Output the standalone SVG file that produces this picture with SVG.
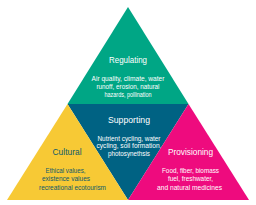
<svg xmlns="http://www.w3.org/2000/svg" width="256" height="205" viewBox="0 0 256 205">
<style>
.t{font-family:"Liberation Sans",Arial,sans-serif;text-anchor:middle}
.h{font-size:9px}
.b{font-size:6.8px}
.w{fill:#ffffff}
.d{fill:#0e5a6c}
</style>
<rect width="256" height="205" fill="#ffffff"/>
<g id="regulating">
<polygon points="128,7 67.5,104 188.5,104" fill="#00a685"/>
<text class="t h w" x="128" y="63" textLength="38" lengthAdjust="spacingAndGlyphs">Regulating</text>
<text class="t b w" x="128" y="80.5" textLength="73" lengthAdjust="spacingAndGlyphs">Air quality, climate, water</text>
<text class="t b w" x="128" y="88.5" textLength="63" lengthAdjust="spacingAndGlyphs">runoff, erosion, natural</text>
<text class="t b w" x="128" y="96.5" textLength="47" lengthAdjust="spacingAndGlyphs">hazards, pollination</text>
</g>
<g id="supporting">
<polygon points="67.5,104 188.5,104 128,200" fill="#006283"/>
<text class="t h w" x="129" y="122.5" textLength="42" lengthAdjust="spacingAndGlyphs">Supporting</text>
<text class="t b w" x="129" y="140.5" textLength="63" lengthAdjust="spacingAndGlyphs">Nutrient cycling, water</text>
<text class="t b w" x="129" y="148" textLength="65" lengthAdjust="spacingAndGlyphs">cycling, soil formation,</text>
<text class="t b w" x="129" y="155.5" textLength="42" lengthAdjust="spacingAndGlyphs">photosynethsis</text>
</g>
<g id="cultural">
<polygon points="67.5,104 7,200 128,200" fill="#f7c935"/>
<text class="t h d" x="67" y="155" textLength="29" lengthAdjust="spacingAndGlyphs">Cultural</text>
<text class="t b d" x="65.5" y="173" textLength="40" lengthAdjust="spacingAndGlyphs">Ethical values,</text>
<text class="t b d" x="66" y="181" textLength="48" lengthAdjust="spacingAndGlyphs">existence values</text>
<text class="t b d" x="72.5" y="189.5" textLength="67" lengthAdjust="spacingAndGlyphs">recreational ecotourism</text>
</g>
<g id="provisioning">
<polygon points="188.5,104 128,200 249,200" fill="#ee0b7e"/>
<text class="t h w" x="190.5" y="155" textLength="45" lengthAdjust="spacingAndGlyphs">Provisioning</text>
<text class="t b w" x="190.5" y="173" textLength="57" lengthAdjust="spacingAndGlyphs">Food, fiber, biomass</text>
<text class="t b w" x="190.5" y="181" textLength="45" lengthAdjust="spacingAndGlyphs">fuel, freshwater,</text>
<text class="t b w" x="189.5" y="189.5" textLength="65" lengthAdjust="spacingAndGlyphs">and natural medicines</text>
</g>
</svg>
